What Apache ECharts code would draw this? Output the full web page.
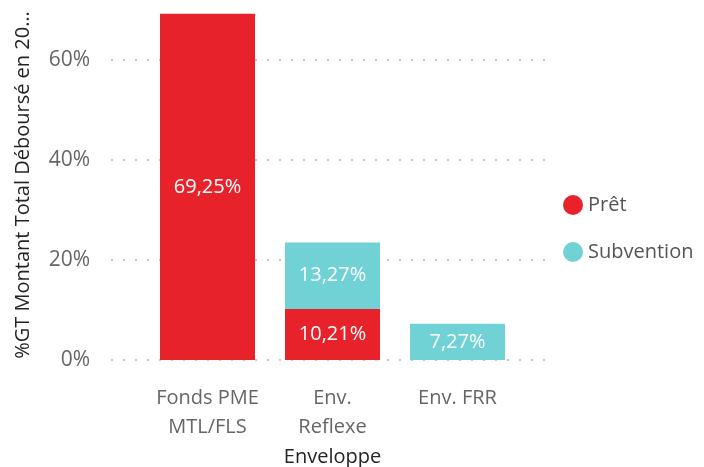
<!DOCTYPE html>
<html>
<head>
<meta charset="utf-8">
<script src="https://cdn.jsdelivr.net/npm/echarts@6/dist/echarts.min.js"></script>
<style>
  html, body { margin: 0; padding: 0; background: #fff; }
  #chart { width: 704px; height: 467px; }
</style>
</head>
<body>
<div id="chart"></div>
<script>
const categories = ['Fonds PME\nMTL/FLS', 'Env.\nReflexe', 'Env. FRR']
const pret = [69.25, 10.21, null]
const subvention = [null, 13.27, 7.27]
const yTicks = [0, 20, 40, 60]

const font = 'Open Sans'
const fmt = v => v.toFixed(2).replace('.', ',') + '%'

const chart = echarts.init(document.getElementById('chart'))

const barLabel = {
  show: true,
  position: 'inside',
  color: '#fff',
  fontSize: 20,
  fontFamily: font,
  formatter: p => fmt(p.value)
}

const option = {
  animation: false,
  textStyle: { fontFamily: font },
  legend: {
    orient: 'vertical',
    left: 558,
    top: 190,
    itemGap: 27,
    icon: 'circle',
    itemWidth: 20,
    itemHeight: 20,
    textStyle: { fontSize: 20, color: '#555', fontFamily: font }
  },
  grid: [
    { left: 111, right: 149, top: 10, bottom: 107, outerBoundsMode: 'none' },
    { left: 145, right: 184, top: 10, bottom: 107, outerBoundsMode: 'none' }
  ],
  xAxis: [
    { gridIndex: 0, type: 'value', show: false, min: 0, max: 1 },
    {
      gridIndex: 1,
      type: 'category',
      data: categories,
      name: 'Enveloppe',
      nameLocation: 'middle',
      nameGap: 84,
      nameTextStyle: { fontSize: 20, color: '#252423', fontFamily: font },
      axisLine: { show: false },
      axisTick: { show: false },
      axisLabel: { interval: 0, hideOverlap: false, fontSize: 20, color: '#666', lineHeight: 29, margin: 24, fontFamily: font }
    }
  ],
  yAxis: [
    {
      gridIndex: 0,
      type: 'value',
      min: 0,
      max: 70,
      interval: 20,
      name: '%GT Montant Total Déboursé en 20…',
      nameLocation: 'middle',
      nameGap: 78,
      nameTextStyle: { fontSize: 20, color: '#252423', fontFamily: font },
      axisLine: { show: false },
      axisTick: { show: false },
      axisLabel: {
        fontSize: 21,
        color: '#666',
        margin: 21,
        fontFamily: font,
        showMaxLabel: false,
        formatter: v => (yTicks.includes(v) ? v + '%' : '')
      },
      splitLine: { showMaxLine: false, lineStyle: { color: '#c8c8c8', width: 2, type: [2, 10] } }
    },
    { gridIndex: 1, type: 'value', min: 0, max: 70, show: false }
  ],
  series: [
    {
      name: 'Prêt',
      type: 'bar',
      xAxisIndex: 1,
      yAxisIndex: 1,
      stack: 'total',
      barWidth: 95,
      data: pret,
      itemStyle: { color: '#E8222A' },
      label: barLabel
    },
    {
      name: 'Subvention',
      type: 'bar',
      xAxisIndex: 1,
      yAxisIndex: 1,
      stack: 'total',
      barWidth: 95,
      data: subvention,
      itemStyle: { color: '#70D2D4' },
      label: barLabel
    }
  ]
}

chart.setOption(option)
window.addEventListener('resize', () => chart.resize())
</script>
</body>
</html>
